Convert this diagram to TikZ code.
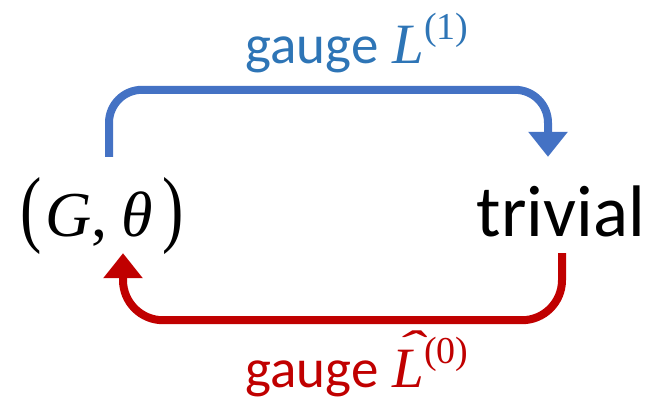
\documentclass[tikz,border=0pt]{standalone}
\usepackage{graphicx}
\usepackage{fontspec}
\setmainfont{Carlito}
\newfontfamily\mathlike{Liberation Serif}
\usetikzlibrary{arrows.meta}
\definecolor{gblue}{HTML}{4472C4}
\definecolor{gbluetext}{HTML}{2E75B6}
\definecolor{gred}{HTML}{C00000}
\newcommand{\tallparen}[1]{\scalebox{1}[1.33]{#1}}
\newcommand{\symL}{{\fontsize{57}{60}\selectfont\mathlike\itshape L}}
\newcommand{\symLhat}{{\fontsize{57}{60}\selectfont\mathlike\itshape
  \makebox[0pt][l]{\hspace{3pt}\raisebox{25pt}{\scalebox{1.5}[0.8]{\char"02C6}}}L}}
\newcommand{\supidx}[1]{\raisebox{0.42em}{\fontsize{38}{40}\selectfont\mathlike(#1)}}
\begin{document}
\begin{tikzpicture}[x=1pt,y=-1pt,
  endpt/.style={inner sep=0pt,anchor=base,text height=79pt,text depth=17pt},
  gaugelbl/.style={inner sep=0pt,anchor=base,font=\fontsize{55}{66}\selectfont},
  gaugearrow/.style={line width=8pt,-{Triangle[width=38pt,length=25pt]}}]
  \useasboundingbox (0,0) rectangle (653,405);
  \node[endpt,font=\fontsize{64}{76}\selectfont\mathlike] (pair) at (102,236)
    {\tallparen{(}\hspace{4pt}\textit{G},\hspace{14pt}\textit{θ}\hspace{9pt}\tallparen{)}};
  \node[endpt,font=\fontsize{73}{86}\selectfont] (triv) at (561,236) {trivial};
  \draw[gaugearrow,gblue,rounded corners=33pt] ([xshift=7pt]pair.north) -- ++(0,-67) -| ([xshift=-13pt]triv.north);
  \draw[gaugearrow,gred,rounded corners=40pt] ([xshift=1pt]triv.south) -- ++(0,67) -| ([xshift=21pt]pair.south);
  \node[gaugelbl,gbluetext] (lblup) at (357,63) {gauge\hspace{14pt}\symL\supidx{1}};
  \node[gaugelbl,gred] (lbldown) at (357,387) {gauge\hspace{14pt}\symLhat\supidx{0}};
\end{tikzpicture}
\end{document}
